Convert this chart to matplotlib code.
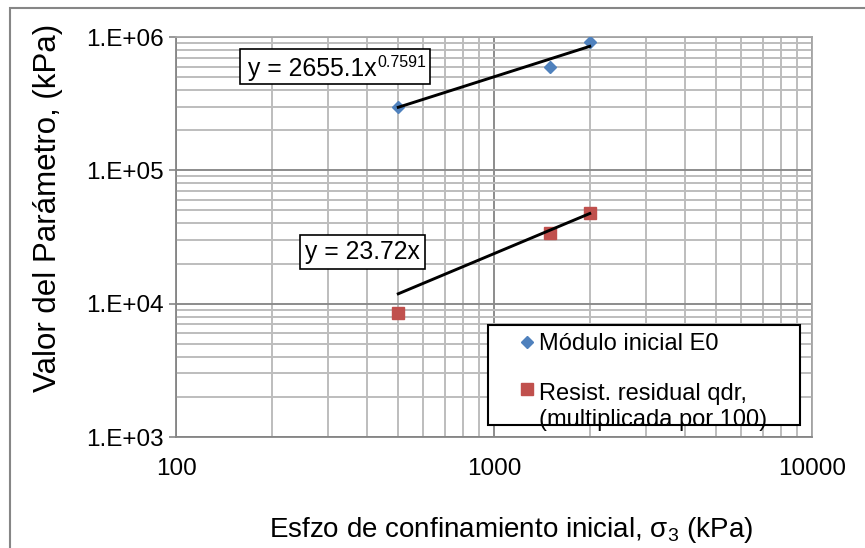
import matplotlib
matplotlib.use("Agg")
import matplotlib.pyplot as plt
from matplotlib.patches import Rectangle
from matplotlib.ticker import LogLocator, NullFormatter, FixedLocator, FixedFormatter
import numpy as np

plt.rcParams['font.family'] = ['Liberation Sans', 'DejaVu Sans']
plt.rcParams['mathtext.fontset'] = 'custom'
plt.rcParams['mathtext.rm'] = 'Liberation Sans'
plt.rcParams['mathtext.it'] = 'Liberation Sans:italic'
plt.rcParams['mathtext.bf'] = 'Liberation Sans:bold'

# ---- data ----
sigma3 = [500, 1500, 2000]                  # kPa
modulo_E0 = [300000, 600000, 920000]        # kPa
resist_qdr_x100 = [8500, 34000, 48000]      # kPa (x100)

# trendline coefficients (as shown in the chart)
pot_coef, pot_exp = 2655.1, 0.7591
lin_coef = 23.72
eq_pot_base = "y = 2655.1x"
eq_pot_exp = "0.7591"
eq_lin = "y = 23.72x"

x_ticks = [100, 1000, 10000]
x_tick_labels = ["100", "1000", "10000"]
y_ticks = [1e3, 1e4, 1e5, 1e6]
y_tick_labels = ["1.E+03", "1.E+04", "1.E+05", "1.E+06"]

label_E0 = "Módulo inicial E0"
label_qdr = "Resist. residual qdr,\n(multiplicada por 100)"

W, H = 865, 548
fig = plt.figure(figsize=(W / 100, H / 100), dpi=100)

def fx(px):
    return px / W

def fy(py):
    return 1 - py / H

# outer chart frame (partially cropped)
fig.patches.append(Rectangle((fx(10), -0.1), 1.2, fy(8.5) + 0.1,
                             transform=fig.transFigure, fill=False,
                             edgecolor='#868686', linewidth=1.5))

left, right, top, bottom = 176, 812, 37, 437
ax = fig.add_axes([fx(left), fy(bottom), fx(right - left), (bottom - top) / H])
ax.set_xscale('log')
ax.set_yscale('log')
ax.set_xlim(100, 10000)
ax.set_ylim(1e3, 1e6)

# grid
ax.xaxis.set_minor_locator(LogLocator(base=10, subs=np.arange(2, 10)))
ax.yaxis.set_minor_locator(LogLocator(base=10, subs=np.arange(2, 10)))
ax.xaxis.set_minor_formatter(NullFormatter())
ax.yaxis.set_minor_formatter(NullFormatter())
ax.grid(which='minor', color='#BDBDBD', linewidth=1.4)
ax.grid(which='major', color='#8C8C8C', linewidth=1.4)
ax.set_axisbelow(True)

ax.xaxis.set_major_locator(FixedLocator(x_ticks))
ax.xaxis.set_major_formatter(FixedFormatter(x_tick_labels))
ax.yaxis.set_major_locator(FixedLocator(y_ticks))
ax.yaxis.set_major_formatter(FixedFormatter(y_tick_labels))

for s in ax.spines.values():
    s.set_color('#868686')
    s.set_linewidth(1.3)
ax.spines['top'].set_color('#A6A6A6')
ax.spines['right'].set_color('#A6A6A6')

ax.tick_params(axis='y', which='major', length=5, color='#868686', width=1.2,
               labelsize=17.5, pad=4)
ax.tick_params(axis='y', which='minor', length=0)
ax.tick_params(axis='x', which='major', length=0, labelsize=17.5, pad=15)
ax.tick_params(axis='x', which='minor', length=0)

# data series
ax.plot(sigma3, modulo_E0, linestyle='none', marker='D', markersize=6.2,
        color='#4F81BD', markeredgecolor='#4F81BD', label=label_E0, zorder=4)
ax.plot(sigma3, resist_qdr_x100, linestyle='none', marker='s', markersize=8.2,
        color='#C0504D', markeredgecolor='#C0504D', label=label_qdr, zorder=4)

# trendlines
xt_fine = np.linspace(min(sigma3), max(sigma3), 50)
ax.plot(xt_fine, pot_coef * xt_fine ** pot_exp, color='black', linewidth=2.1, zorder=5)
ax.plot(xt_fine, lin_coef * xt_fine, color='black', linewidth=2.1, zorder=5)

# equation label 1 (box + base text + superscript)
ax.add_patch(Rectangle((fx(240), fy(84)), fx(430 - 240), (84 - 49) / H,
                       transform=fig.transFigure, facecolor='white', edgecolor='black',
                       linewidth=1.2, zorder=6, clip_on=False))
t1 = fig.text(fx(248), fy(76), eq_pot_base, fontsize=17.8, va='baseline', ha='left', zorder=7)
fig.canvas.draw()
r = fig.canvas.get_renderer()
bb = t1.get_window_extent(renderer=r)
fig.text(bb.x1 / W + fx(0.5), fy(67), eq_pot_exp, fontsize=11.5, va='baseline', ha='left', zorder=7)

# equation label 2
box = dict(boxstyle='square,pad=0.22', facecolor='white', edgecolor='black', linewidth=1.2)
ax.text(fx(305), fy(252), eq_lin, transform=fig.transFigure,
        fontsize=17.8, va='center', ha='left', bbox=box, zorder=6)

# legend box + legend content
ax.add_patch(Rectangle((fx(488), fy(425)), fx(800 - 488), (425 - 325) / H,
                       transform=fig.transFigure, facecolor='white', edgecolor='black',
                       linewidth=1.5, zorder=6, clip_on=False))
leg = ax.legend(loc='upper left', bbox_to_anchor=(fx(520), fy(333)),
                bbox_transform=fig.transFigure,
                fontsize=17, frameon=False,
                handlelength=0.6, handletextpad=0.2, borderpad=0,
                labelspacing=1.2, borderaxespad=0)
leg.set_zorder(7)
h2 = leg.legend_handles[1]
h2.set_ydata(np.asarray(h2.get_ydata(), dtype=float) + 13)

ax.set_xlabel("Esfzo de confinamiento inicial, σ$_3$ (kPa)", fontsize=20)
ax.xaxis.set_label_coords((511 - left) / (right - left), -(530 - bottom) / (bottom - top),
                          transform=ax.transAxes)
ax.xaxis.label.set_va('center')
ax.set_ylabel("Valor del Parámetro, (kPa)", fontsize=22.5)
ax.yaxis.set_label_coords(-(176 - 48) / (right - left), (bottom - 208) / (bottom - top))
ax.yaxis.label.set_va('center')

fig.savefig("out.png", dpi=100)
